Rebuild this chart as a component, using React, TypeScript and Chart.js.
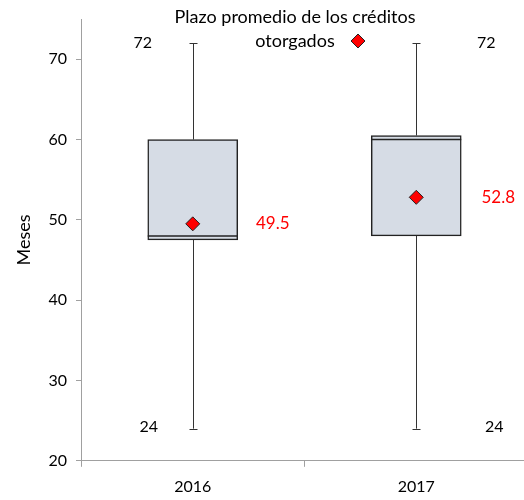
import React, { useEffect, useRef } from 'react';
import { Chart, registerables } from 'chart.js';

Chart.register(...registerables);

const categories = ['2016', '2017'];
const whiskerMin = [24, 24];
const q1 = [47.5, 48];
const median = [48, 60];
const q3 = [60, 60.5];
const whiskerMax = [72, 72];
const means = [49.5, 52.8];
const meanLabels = ['49.5', '52.8'];
const yTicks = [20, 30, 40, 50, 60, 70];
const legendLines = ['Plazo promedio de los créditos', 'otorgados'];
const yTitle = 'Meses';

const FONT = 'Lato, "Open Sans", sans-serif';

const boxPlugin = {
  id: 'boxExtras',
  beforeDatasetsDraw(chart: any) {
    const { ctx, scales } = chart;
    const x = scales.x;
    const y = scales.y;
    ctx.save();
    ctx.strokeStyle = '#333';
    ctx.lineWidth = 1;
    categories.forEach((_, i) => {
      const cx = Math.round(x.getPixelForValue(i)) + 0.5;
      const yMin = y.getPixelForValue(whiskerMin[i]);
      const yMax = y.getPixelForValue(whiskerMax[i]);
      const yq1 = y.getPixelForValue(q1[i]);
      const yq3 = y.getPixelForValue(q3[i]);
      ctx.beginPath();
      ctx.moveTo(cx, yMax);
      ctx.lineTo(cx, yq3);
      ctx.moveTo(cx, yq1);
      ctx.lineTo(cx, yMin);
      ctx.moveTo(cx - 4, Math.round(yMax) + 0.5);
      ctx.lineTo(cx + 4, Math.round(yMax) + 0.5);
      ctx.moveTo(cx - 4, Math.round(yMin) + 0.5);
      ctx.lineTo(cx + 4, Math.round(yMin) + 0.5);
      ctx.stroke();
    });
    ctx.restore();
  },
  afterDatasetDraw(chart: any, args: any) {
    if (args.index !== 1) return;
    const { ctx, scales } = chart;
    const meta = chart.getDatasetMeta(1);
    const y = scales.y;
    ctx.save();
    ctx.strokeStyle = '#222';
    ctx.lineWidth = 1.5;
    meta.data.forEach((bar: any, i: number) => {
      const half = bar.width / 2;
      const my = y.getPixelForValue(median[i]);
      ctx.beginPath();
      ctx.moveTo(bar.x - half, my);
      ctx.lineTo(bar.x + half, my);
      ctx.stroke();
    });
    ctx.restore();
  },
  afterDraw(chart: any) {
    const { ctx, scales } = chart;
    const x = scales.x;
    const y = scales.y;
    ctx.save();
    ctx.textAlign = 'center';
    ctx.textBaseline = 'middle';
    const maxOffsets = [-50, 70];
    const minOffsets = [-44, 78];
    const meanOffsets = [80, 82];
    categories.forEach((_, i) => {
      const cx = x.getPixelForValue(i);
      ctx.font = `16px ${FONT}`;
      ctx.fillStyle = '#000';
      ctx.fillText(String(whiskerMax[i]), cx + maxOffsets[i], y.getPixelForValue(whiskerMax[i]));
      ctx.fillText(String(whiskerMin[i]), cx + minOffsets[i], y.getPixelForValue(whiskerMin[i]) - 2);
      ctx.font = `17px ${FONT}`;
      ctx.fillStyle = '#ff0000';
      ctx.fillText(meanLabels[i], cx + meanOffsets[i], y.getPixelForValue(means[i]));
    });
    // legend
    ctx.font = `18px ${FONT}`;
    ctx.fillStyle = '#000';
    ctx.fillText(legendLines[0], 295, 17);
    ctx.fillText(legendLines[1], 295, 41);
    const dx = 358, dy = 41, r = 7;
    ctx.beginPath();
    ctx.moveTo(dx - r, dy);
    ctx.lineTo(dx, dy - r);
    ctx.lineTo(dx + r, dy);
    ctx.lineTo(dx, dy + r);
    ctx.closePath();
    ctx.fillStyle = '#ff0000';
    ctx.fill();
    ctx.strokeStyle = '#222';
    ctx.lineWidth = 1;
    ctx.stroke();
    ctx.restore();
  },
};

export default function App() {
  const ref = useRef<HTMLCanvasElement>(null);
  useEffect(() => {
    const chart = new Chart(ref.current!, {
      type: 'bar',
      data: {
        labels: categories,
        datasets: [
          {
            type: 'line',
            label: legendLines.join(' '),
            data: means,
            showLine: false,
            pointStyle: 'rectRot',
            pointRadius: 7,
            pointBackgroundColor: '#ff0000',
            pointBorderColor: '#222',
            pointBorderWidth: 1,
            order: 1,
          } as any,
          {
            type: 'bar',
            label: 'box',
            data: q1.map((v, i) => [v, q3[i]]),
            backgroundColor: '#d6dce5',
            borderColor: '#222',
            borderWidth: 1.5,
            borderSkipped: false,
            barThickness: 90,
            order: 2,
          } as any,
        ],
      },
      options: {
        animation: false,
        responsive: false,
        layout: { padding: { top: 19, right: 0, bottom: 2, left: 0 } },
        plugins: { legend: { display: false }, tooltip: { enabled: false }, title: { display: false } },
        scales: {
          x: {
            type: 'category',
            offset: true,
            afterFit: (s: any) => { s.paddingLeft = 0; s.paddingRight = 0; },
            grid: { display: true, drawOnChartArea: false, offset: true, tickLength: 6, color: '#a0a0a0' },
            border: { color: '#a0a0a0' },
            ticks: { color: '#000', font: { family: FONT, size: 16 }, padding: 10 },
          },
          y: {
            min: 20,
            max: 75,
            afterBuildTicks: (s: any) => { s.ticks = yTicks.map((v) => ({ value: v })); },
            afterFit: (s: any) => { s.width = 81; },
            grid: { display: true, drawOnChartArea: false, tickLength: 5, color: '#a0a0a0' },
            border: { color: '#a0a0a0' },
            ticks: { color: '#000', font: { family: FONT, size: 16 }, padding: 9 },
            title: { display: true, text: yTitle, color: '#000', font: { family: FONT, size: 18 }, padding: { top: 13, bottom: 0 } },
          },
        },
      } as any,
      plugins: [boxPlugin],
    });
    return () => chart.destroy();
  }, []);
  return (
    <div style={{ position: 'absolute', left: 0, top: 0, width: 524, height: 500, overflow: 'hidden' }}>
      <canvas ref={ref} width={536} height={508} style={{ width: 536, height: 508, display: 'block' }} />
    </div>
  );
}
